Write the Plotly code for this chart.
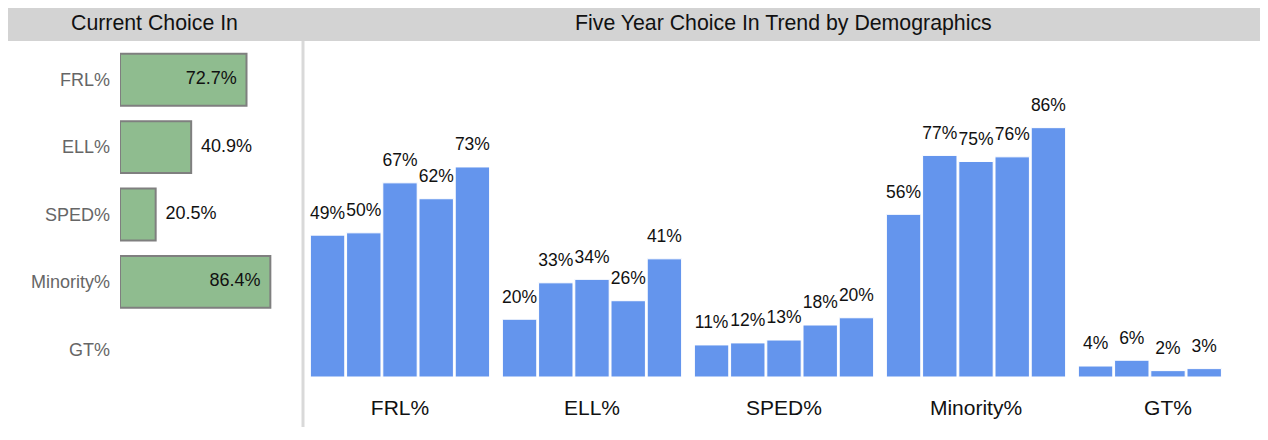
import plotly.graph_objects as go

# ---------------- data ----------------
categories = ["FRL%", "ELL%", "SPED%", "Minority%", "GT%"]
years = ["Year 1", "Year 2", "Year 3", "Year 4", "Year 5"]

current_values = [72.7, 40.9, 20.5, 86.4, None]

trend_year1 = [49.1, 20.0, 11.1, 56.3, 3.8]
trend_year2 = [49.9, 32.6, 11.8, 76.7, 5.8]
trend_year3 = [67.2, 33.8, 12.8, 74.6, 2.2]
trend_year4 = [61.7, 26.4, 18.0, 76.2, 2.9]
trend_year5 = [72.7, 40.9, 20.5, 86.3, None]
trend = [trend_year1, trend_year2, trend_year3, trend_year4, trend_year5]

# ---------------- layout helpers ----------------
# page body has an 8px margin, so the figure is sized to fit inside the window
OFF = 8
W, H = 1268 - 2 * OFF, 440 - 2 * OFF


def px_x(p):
    return min(1.0, max(0.0, (p - OFF) / W))


def px_y(p):
    return min(1.0, max(0.0, 1 - (p - OFF) / H))


FONT = "Liberation Sans, Arial, sans-serif"
GREEN = "#8FBC8F"
BLUE = "#6495ED"

# right panel: plot from x=304 to figure edge, category pitch 192 px
R_LEFT, R_RIGHT, PITCH = 304, OFF + W, 192.0
x2_range = [-0.5, -0.5 + (R_RIGHT - R_LEFT) / PITCH]

fig = go.Figure()

# ---- left panel: current choice in ----
fig.add_trace(go.Bar(
    x=current_values, y=categories, orientation="h",
    xaxis="x", yaxis="y", width=0.77,
    marker=dict(color=GREEN, line=dict(color="#7F7F7F", width=2)),
    hoverinfo="skip", showlegend=False,
))
left_pos = ["middle left" if (v is not None and v >= 60) else "middle right"
            for v in current_values]
fig.add_trace(go.Scatter(
    x=current_values, y=categories, mode="markers+text", orientation="h",
    text=["" if v is None else f"{v:.1f}%" for v in current_values],
    textposition=left_pos,
    marker=dict(size=14, color="rgba(0,0,0,0)"),
    textfont=dict(size=18, color="#111111", family=FONT),
    xaxis="x", yaxis="y", cliponaxis=False, hoverinfo="skip", showlegend=False,
))

# ---- right panel: five year trend ----
for i, (yr, vals) in enumerate(zip(years, trend)):
    fig.add_trace(go.Bar(
        x=categories, y=vals, name=yr, offsetgroup=str(i),
        xaxis="x2", yaxis="y2",
        marker=dict(color=BLUE, line=dict(color="white", width=1)),
        showlegend=False,
    ))
for i, (yr, vals) in enumerate(zip(years, trend)):
    fig.add_trace(go.Scatter(
        x=categories, y=vals, name=yr, offsetgroup=str(i), orientation="v",
        mode="markers+text",
        text=["" if v is None else f"{v:.0f}%" for v in vals],
        textposition="top center",
        marker=dict(size=18, color="rgba(0,0,0,0)"),
        textfont=dict(size=17.5, color="#111111", family=FONT),
        xaxis="x2", yaxis="y2", cliponaxis=False, hoverinfo="skip",
        showlegend=False,
    ))

fig.update_layout(
    width=W, height=H,
    margin=dict(l=0, r=0, t=0, b=0),
    paper_bgcolor="white", plot_bgcolor="white",
    font=dict(family=FONT, color="#111111"),
    barmode="group", bargap=0.057, bargroupgap=0.05,
    scattermode="group", scattergap=0.057,
    xaxis=dict(domain=[px_x(120), px_x(294)], range=[0, 100], visible=False,
               anchor="y", fixedrange=True),
    yaxis=dict(domain=[px_y(383), px_y(46)], categoryorder="array",
               categoryarray=categories, autorange="reversed",
               tickfont=dict(size=18, color="#666666"), showgrid=False,
               showline=False, zeroline=False, ticks="", ticklabelstandoff=9,
               anchor="x"),
    xaxis2=dict(domain=[px_x(R_LEFT), px_x(R_RIGHT)], categoryorder="array",
                categoryarray=categories, range=x2_range,
                tickfont=dict(size=21, color="#111111"), showgrid=False,
                showline=False, zeroline=False, ticks="", ticklabelstandoff=16,
                anchor="y2"),
    yaxis2=dict(domain=[px_y(377), px_y(41)], range=[0, 116.3], visible=False,
                anchor="x2"),
    shapes=[
        dict(type="rect", xref="paper", yref="paper",
             x0=px_x(6), x1=px_x(1265), y0=px_y(41), y1=px_y(5),
             fillcolor="#D3D3D3", line=dict(width=0), layer="below"),
        dict(type="line", xref="paper", yref="paper",
             x0=px_x(303), x1=px_x(303), y0=px_y(427), y1=px_y(41),
             line=dict(color="#D9D9D9", width=3)),
    ],
    annotations=[
        dict(text="Current Choice In", xref="paper", yref="paper",
             x=px_x(154.5), y=px_y(23), xanchor="center", yanchor="middle",
             showarrow=False, font=dict(size=21.3, color="#111111", family=FONT)),
        dict(text="Five Year Choice In Trend by Demographics", xref="paper",
             yref="paper", x=px_x(783), y=px_y(23), xanchor="center",
             yanchor="middle", showarrow=False,
             font=dict(size=21.3, color="#111111", family=FONT)),
    ],
)

fig.write_html("out.html")
